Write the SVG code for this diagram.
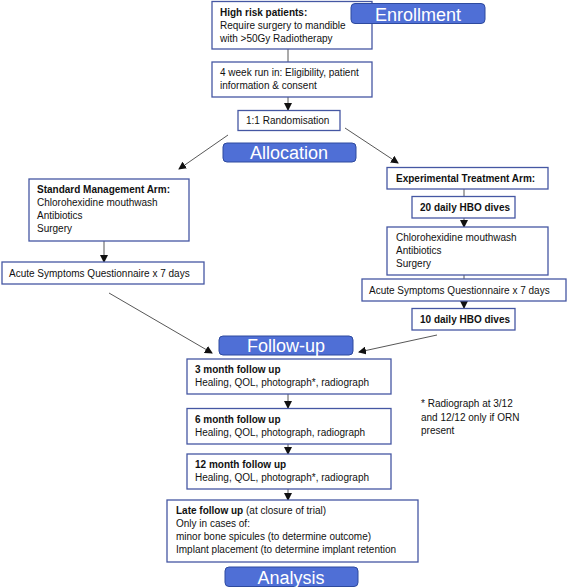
<svg xmlns="http://www.w3.org/2000/svg" width="567" height="587" viewBox="0 0 567 587">
<defs>
<style>
.box{fill:#fff;stroke:#4557a3;stroke-width:1.3}
.lab{fill:#4f6fd6;stroke:#2e4a9e;stroke-width:1}
.t{font-family:"Liberation Sans",Arial,sans-serif;font-size:10px;fill:#111}
.b{font-weight:bold}
.lt{font-family:"Liberation Sans",Arial,sans-serif;font-size:18px;fill:#fff;text-anchor:middle}
.c{stroke:#444;stroke-width:0.9;fill:none}
</style>
<marker id="ah" markerWidth="8" markerHeight="8" refX="7" refY="4" orient="auto" markerUnits="userSpaceOnUse">
<path d="M0,0 L8,4 L0,8 z" fill="#111"/>
</marker>
</defs>
<rect width="567" height="587" fill="#fff"/>
<g id="connectors">
<line class="c" x1="288" y1="49" x2="288" y2="62"/>
<line class="c" x1="288" y1="97" x2="288" y2="110" marker-end="url(#ah)"/>
<line class="c" x1="228" y1="135" x2="179" y2="169" marker-end="url(#ah)"/>
<line class="c" x1="345" y1="128" x2="398" y2="163" marker-end="url(#ah)"/>
<line class="c" x1="104" y1="241" x2="104" y2="262" marker-end="url(#ah)"/>
<line class="c" x1="464" y1="189" x2="464" y2="196"/>
<line class="c" x1="464" y1="218" x2="464" y2="227" marker-end="url(#ah)"/>
<line class="c" x1="464" y1="275" x2="464" y2="279"/>
<line class="c" x1="464" y1="301" x2="464" y2="308" marker-end="url(#ah)"/>
<line class="c" x1="109" y1="293" x2="212" y2="353" marker-end="url(#ah)"/>
<line class="c" x1="437" y1="335" x2="359" y2="352" marker-end="url(#ah)"/>
<line class="c" x1="288" y1="394" x2="288" y2="408" marker-end="url(#ah)"/>
<line class="c" x1="288" y1="444" x2="288" y2="454" marker-end="url(#ah)"/>
<line class="c" x1="288" y1="489" x2="288" y2="500" marker-end="url(#ah)"/>
</g>
<g id="highrisk">
<rect class="box" x="212" y="1.5" width="160" height="47.5"/>
<text class="t b" x="220" y="16">High risk patients:</text>
<text class="t" x="220" y="29">Require surgery to mandible</text>
<text class="t" x="220" y="42">with &gt;50Gy Radiotherapy</text>
</g>
<g id="enrollment">
<rect class="lab" x="351" y="3.5" width="134" height="20" rx="4"/>
<text class="lt" x="418" y="20.5">Enrollment</text>
</g>
<g id="runin">
<rect class="box" x="212" y="62" width="160" height="35"/>
<text class="t" x="220" y="75.5">4 week run in: Eligibility, patient</text>
<text class="t" x="220" y="88.5">information &amp; consent</text>
</g>
<g id="random">
<rect class="box" x="238" y="110.5" width="102" height="20"/>
<text class="t" x="246" y="124">1:1 Randomisation</text>
</g>
<g id="allocation">
<rect class="lab" x="223" y="143" width="133" height="19" rx="4"/>
<text class="lt" x="289" y="159">Allocation</text>
</g>
<g id="standard">
<rect class="box" x="29" y="179" width="160" height="62"/>
<text class="t b" x="37" y="193">Standard Management Arm:</text>
<text class="t" x="37" y="206">Chlorohexidine mouthwash</text>
<text class="t" x="37" y="219">Antibiotics</text>
<text class="t" x="37" y="232">Surgery</text>
</g>
<g id="acuteL">
<rect class="box" x="2" y="262" width="202" height="22"/>
<text class="t" x="9" y="277">Acute Symptoms Questionnaire x 7 days</text>
</g>
<g id="experimental">
<rect class="box" x="387" y="167.5" width="161" height="21.5"/>
<text class="t b" x="396" y="182">Experimental Treatment Arm:</text>
</g>
<g id="hbo20">
<rect class="box" x="412" y="196.5" width="103" height="21.5"/>
<text class="t b" x="420" y="211">20 daily HBO dives</text>
</g>
<g id="chloroR">
<rect class="box" x="387" y="227" width="161" height="48"/>
<text class="t" x="396" y="240.5">Chlorohexidine mouthwash</text>
<text class="t" x="396" y="253.5">Antibiotics</text>
<text class="t" x="396" y="267">Surgery</text>
</g>
<g id="acuteR">
<rect class="box" x="362" y="279" width="204" height="22"/>
<text class="t" x="369" y="294">Acute Symptoms Questionnaire x 7 days</text>
</g>
<g id="hbo10">
<rect class="box" x="412" y="308.5" width="103" height="21.5"/>
<text class="t b" x="420" y="323">10 daily HBO dives</text>
</g>
<g id="followup">
<rect class="lab" x="219" y="336" width="134" height="19" rx="4"/>
<text class="lt" x="286" y="352">Follow-up</text>
</g>
<g id="m3">
<rect class="box" x="187" y="359" width="204" height="35"/>
<text class="t b" x="195" y="373">3 month follow up</text>
<text class="t" x="195" y="386">Healing, QOL, photograph*, radiograph</text>
</g>
<g id="m6">
<rect class="box" x="187" y="408.5" width="204" height="35.5"/>
<text class="t b" x="195" y="423">6 month follow up</text>
<text class="t" x="195" y="435.5">Healing, QOL, photograph, radiograph</text>
</g>
<g id="m12">
<rect class="box" x="187" y="454" width="204" height="35"/>
<text class="t b" x="195" y="468">12 month follow up</text>
<text class="t" x="195" y="481">Healing, QOL, photograph*, radiograph</text>
</g>
<g id="late">
<rect class="box" x="167" y="500" width="251" height="62"/>
<text class="t" x="176" y="514"><tspan class="b">Late follow up</tspan> (at closure of trial)</text>
<text class="t" x="176" y="527">Only in cases of:</text>
<text class="t" x="176" y="539.5">minor bone spicules (to determine outcome)</text>
<text class="t" x="176" y="552.5">Implant placement (to determine implant retention</text>
</g>
<g id="analysis">
<rect class="lab" x="225" y="567" width="133" height="19.5" rx="4"/>
<text class="lt" x="291" y="584">Analysis</text>
</g>
<g id="footnote">
<text class="t" x="421" y="407">* Radiograph at 3/12</text>
<text class="t" x="421" y="420.5">and 12/12 only if ORN</text>
<text class="t" x="421" y="434">present</text>
</g>
</svg>
